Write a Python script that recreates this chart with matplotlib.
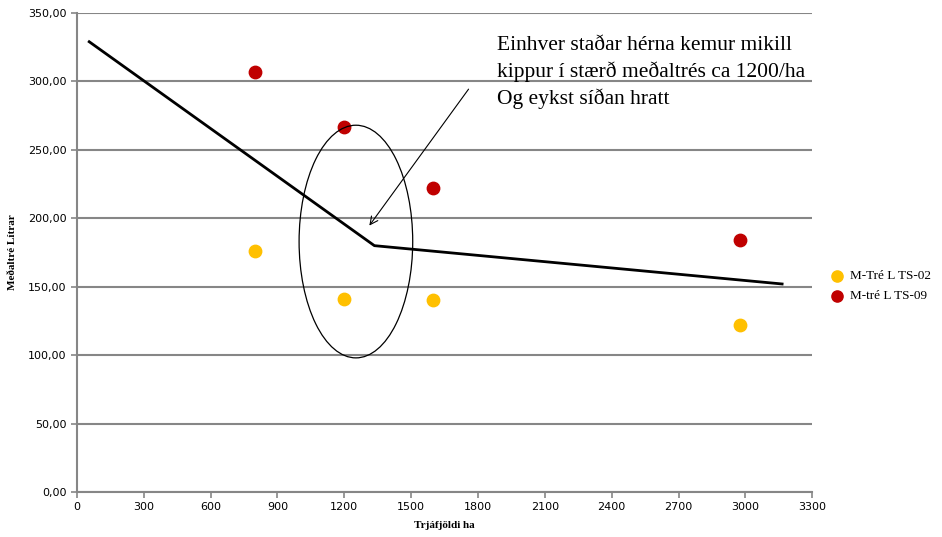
import matplotlib.pyplot as plt
from matplotlib.patches import Ellipse

# Data
x_ts02 = [800, 1200, 1600, 2977]
y_ts02 = [176, 141, 140, 122]
x_ts09 = [800, 1200, 1600, 2977]
y_ts09 = [307, 267, 222, 184]
line_x = [55, 1335, 3165]
line_y = [329, 180, 152]
series_labels = ['M-Tré L TS-02', 'M-tré L TS-09']
note = 'Einhver staðar hérna kemur mikill\nkippur í stærð meðaltrés ca 1200/ha\nOg eykst síðan hratt'

fig = plt.figure(figsize=(9.42, 5.37), dpi=100)
ax = fig.add_axes([0.0817, 0.0838, 0.7805, 0.892])
fig.patch.set_facecolor('white')

ax.set_xlim(0, 3300)
ax.set_ylim(0, 350)
ax.set_xticks(range(0, 3301, 300))
yt = list(range(0, 351, 50))
ax.set_yticks(yt)
ax.set_yticklabels([f'{v},00' for v in yt])
ax.tick_params(labelsize=8, colors='#868686', labelcolor='black', length=4, width=1.2)
ax.grid(axis='y', color='#868686', linewidth=1.5)
ax.set_axisbelow(True)
for s in ['top', 'right']:
    ax.spines[s].set_visible(False)
for s in ['left', 'bottom']:
    ax.spines[s].set_color('#868686')
    ax.spines[s].set_linewidth(1.5)

# Trend line
ax.plot(line_x, line_y, color='black', linewidth=2, zorder=3)

# Scatter points
ax.scatter(x_ts02, y_ts02, s=80, color='#FFC000', zorder=4, label=series_labels[0])
ax.scatter(x_ts09, y_ts09, s=80, color='#C00000', zorder=4, label=series_labels[1])

# Ellipse + annotation
ax.add_patch(Ellipse((1252, 183), 510, 170, fill=False, edgecolor='black', linewidth=0.9, zorder=5))
ax.annotate('', xy=(1305, 193), xytext=(1765, 296),
            arrowprops=dict(arrowstyle='->', color='black', lw=0.8, mutation_scale=14))
ax.text(1885, 333, note, fontsize=15.5, family='Liberation Serif', ha='left', va='top',
        linespacing=1.4)

ax.set_xlabel('Trjáfjöldi ha', fontsize=8, fontweight='bold', family='Liberation Serif', labelpad=6)
ax.set_ylabel('Meðaltré Lítrar', fontsize=8, fontweight='bold', family='Liberation Serif', labelpad=8)

leg = ax.legend(loc='center left', bbox_to_anchor=(1.0, 0.43), frameon=False,
                prop={'family': 'Liberation Serif', 'size': 9.5}, handletextpad=0.0,
                markerscale=0.9, labelspacing=0.6)

plt.savefig('out.png', dpi=100, facecolor='white')
plt.close()
